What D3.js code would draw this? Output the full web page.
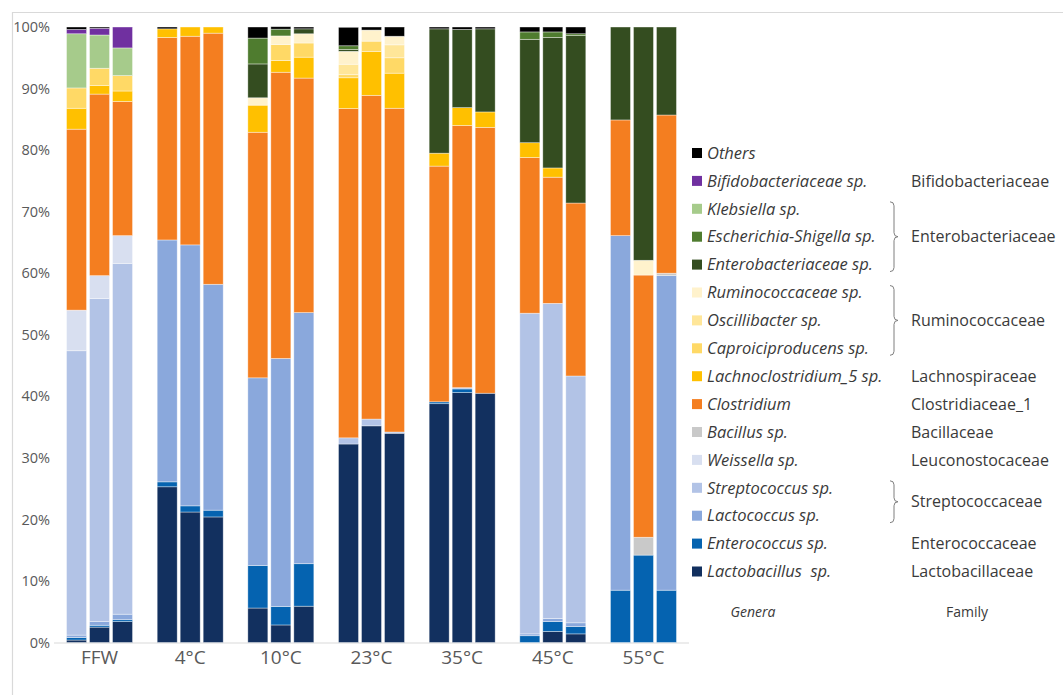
<!DOCTYPE html>
<html lang="en">
<head>
<meta charset="UTF-8">
<title>Genera by temperature</title>
<script src="https://d3js.org/d3.v7.min.js"></script>
<style>
  body { margin: 0; background: #fff; }
  text { font-family: "Open Sans", "Liberation Sans", sans-serif; }
</style>
</head>
<body>
<div id="chart"></div>
<script>
// groups and replicates
const categories = ["FFW", "4°C", "10°C", "23°C", "35°C", "45°C", "55°C"];
const replicates = ["1", "2", "3"];

// relative abundance (%), 21 bars: 3 replicates per group, bottom of stack first
const lactobacillus  = [0.4, 2.5, 3.4, 25.3, 21.2, 20.4, 5.6, 2.85, 5.9, 32.25, 35.2, 34.0, 38.8, 40.6, 40.5, 0, 1.8, 1.4, 0, 0, 0];
const enterococcus   = [0.4, 0.3, 0.3, 0.8, 1.0, 1.1, 6.9, 3.0, 6.9, 0, 0, 0, 0.3, 0.6, 0, 1.1, 1.6, 1.2, 8.5, 14.2, 8.5];
const lactococcus    = [0.4, 0.6, 0.9, 39.3, 42.4, 36.7, 30.5, 40.3, 40.8, 0, 0, 0, 0, 0, 0, 0.3, 0.5, 0.6, 57.6, 0, 51.1];
const streptococcus  = [46.2, 52.5, 57.0, 0, 0, 0, 0, 0, 0, 1.0, 1.1, 0.2, 0, 0.2, 0, 52.1, 51.2, 40.1, 0, 0, 0];
const weissella      = [6.6, 3.7, 4.5, 0, 0, 0, 0, 0, 0, 0, 0, 0, 0, 0, 0, 0, 0, 0, 0, 0, 0];
const bacillus       = [0, 0, 0, 0, 0, 0, 0, 0, 0, 0, 0, 0, 0, 0, 0, 0, 0, 0, 0, 2.9, 0.4];
const clostridium    = [29.4, 29.5, 21.8, 32.9, 33.9, 40.8, 39.9, 46.5, 38.1, 53.5, 52.6, 52.6, 38.3, 42.6, 43.2, 25.3, 20.5, 28.1, 18.8, 42.6, 25.7];
const lachnoclost    = [3.4, 1.4, 1.7, 1.4, 1.5, 1.0, 4.4, 1.9, 3.4, 5.0, 7.1, 5.7, 2.1, 2.9, 2.5, 2.4, 1.5, 0, 0, 0, 0];
const caproici       = [3.3, 2.8, 2.5, 0, 0, 0, 0, 2.6, 2.3, 0.5, 1.7, 2.5, 0, 0, 0, 0, 0, 0, 0, 0, 0];
const oscillibacter  = [0, 0, 0, 0, 0, 0, 0, 0, 0, 1.7, 0, 2.1, 0, 0, 0, 0, 0, 0, 0, 0, 0];
const ruminococc     = [0, 0, 0, 0, 0, 0, 1.2, 1.4, 1.5, 2.1, 1.8, 1.4, 0, 0, 0, 0, 0, 0, 0, 2.4, 0];
const enterobact     = [0, 0, 0, 0, 0, 0, 5.5, 0, 0.8, 0.3, 0, 0, 20.2, 12.7, 13.5, 16.8, 21.2, 27.2, 15.1, 37.9, 14.3];
const escherichia    = [0, 0, 0, 0, 0, 0, 4.2, 1.1, 0, 0.6, 0, 0, 0, 0, 0, 1.2, 0.9, 0.3, 0, 0, 0];
const klebsiella     = [8.8, 5.4, 4.5, 0, 0, 0, 0, 0, 0, 0, 0, 0, 0, 0, 0, 0, 0, 0, 0, 0, 0];
const bifido         = [0.7, 1.1, 3.4, 0, 0, 0, 0, 0, 0, 0, 0, 0, 0, 0, 0, 0, 0, 0, 0, 0, 0];
const others         = [0.4, 0.2, 0, 0.3, 0, 0, 1.8, 0.4, 0.3, 3.0, 0.5, 1.5, 0.3, 0.4, 0.3, 0.8, 0.8, 1.1, 0, 0, 0];

const genera = ["Lactobacillus  sp.", "Enterococcus sp.", "Lactococcus sp.", "Streptococcus sp.",
  "Weissella sp.", "Bacillus sp.", "Clostridium", "Lachnoclostridium_5 sp.", "Caproiciproducens sp.",
  "Oscillibacter sp.", "Ruminococcaceae sp.", "Enterobacteriaceae sp.", "Escherichia-Shigella sp.",
  "Klebsiella sp.", "Bifidobacteriaceae sp.", "Others"];
const seriesValues = [lactobacillus, enterococcus, lactococcus, streptococcus, weissella, bacillus,
  clostridium, lachnoclost, caproici, oscillibacter, ruminococc, enterobact, escherichia,
  klebsiella, bifido, others];
const colors = ["#12305f", "#0563b0", "#8aa8dc", "#b2c3e6", "#d8dff0", "#c9c9c9", "#f47e20",
  "#ffc000", "#ffd966", "#ffe699", "#fff2cc", "#344d20", "#4f7c2f", "#a6cb8b", "#7030a0", "#000000"];

// family labels: [text, first genus index (top row), last genus index]
const families = [
  ["Bifidobacteriaceae", 14, 14], ["Enterobacteriaceae", 13, 11], ["Ruminococcaceae", 10, 8],
  ["Lachnospiraceae", 7, 7], ["Clostridiaceae_1", 6, 6], ["Bacillaceae", 5, 5],
  ["Leuconostocaceae", 4, 4], ["Streptococcaceae", 3, 2], ["Enterococcaceae", 1, 1],
  ["Lactobacillaceae", 0, 0]
];

const W = 1063, H = 695;
const svg = d3.select("#chart").append("svg").attr("width", W).attr("height", H);

// frame
svg.append("path").attr("d", `M12.5,${H + 2}V12.5H${W + 2}`)
  .attr("fill", "none").attr("stroke", "#d9d9d9").attr("stroke-width", 1.2);

// table built from the arrays
const rows = [];
categories.forEach((c, gi) => replicates.forEach((r, ri) => {
  const row = { cat: c, rep: r };
  genera.forEach((g, si) => row[g] = seriesValues[si][gi * 3 + ri] / 100);
  rows.push(row);
}));
const stacked = d3.stack().keys(genera)(rows);

const x = d3.scaleBand().domain(categories).range([54.2, 688.8]);
const xi = d3.scaleBand().domain(replicates)
  .range([(x.bandwidth() - 66) / 2, (x.bandwidth() + 66) / 2]).paddingInner(0.13);
const y = d3.scaleLinear().domain([0, 1]).range([642.5, 27]);

// y axis
const yAxis = svg.append("g").attr("transform", "translate(54,0)")
  .call(d3.axisLeft(y).tickValues(d3.range(0, 1.01, 0.1)).tickFormat(d3.format(".0%")).tickSize(0).tickPadding(4));
yAxis.select(".domain").remove();
yAxis.selectAll("text").attr("fill", "#595959").style("font-size", "14.5px")
  .style("font-family", "'Open Sans', sans-serif");

// baseline
svg.append("line").attr("x1", 54).attr("x2", 689).attr("y1", y(0) + 0.5).attr("y2", y(0) + 0.5)
  .attr("stroke", "#d9d9d9").attr("stroke-width", 1.2);

// bars
svg.append("g").selectAll("g").data(stacked).join("g")
  .attr("fill", (d, i) => colors[i])
  .selectAll("rect").data(d => d).join("rect")
  .attr("x", d => x(d.data.cat) + xi(d.data.rep))
  .attr("width", xi.bandwidth())
  .attr("y", d => y(d[1]))
  .attr("height", d => y(d[0]) - y(d[1]))
  .attr("stroke", "#fff").attr("stroke-opacity", 0.55).attr("stroke-width", 0.7);

// category labels
const xAxis = svg.append("g").attr("transform", `translate(0,${y(0)})`)
  .call(d3.axisBottom(x).tickSize(0).tickPadding(8));
xAxis.select(".domain").remove();
xAxis.selectAll("text").attr("fill", "#595959").style("font-size", "19px")
  .style("font-family", "'Open Sans', sans-serif");

// legend
const rowY = d3.scaleLinear().domain([15, 0]).range([153, 571.5]);
const legend = svg.append("g");
genera.forEach((g, i) => {
  legend.append("rect").attr("x", 692).attr("y", rowY(i) - 5).attr("width", 10).attr("height", 10)
    .attr("fill", colors[i]);
  legend.append("text").attr("x", 707).attr("y", rowY(i)).attr("dy", "0.35em")
    .attr("fill", "#3a3a3a").style("font-size", "16.5px").style("font-style", "italic")
    .style("white-space", "pre").text(g);
});

families.forEach(([name, a, b]) => {
  const mid = (rowY(a) + rowY(b)) / 2;
  legend.append("text").attr("x", 911).attr("y", mid).attr("dy", "0.35em")
    .attr("fill", "#3a3a3a").style("font-size", "16px").text(name);
  if (a !== b) {
    const t = rowY(a) - 7, bt = rowY(b) + 7, bx = 894;
    legend.append("path")
      .attr("d", `M${bx - 4},${t}Q${bx},${t} ${bx},${t + 4}V${mid - 4}Q${bx},${mid} ${bx + 4},${mid}` +
        `Q${bx},${mid} ${bx},${mid + 4}V${bt - 4}Q${bx},${bt} ${bx - 4},${bt}`)
      .attr("fill", "none").attr("stroke", "#7f7f7f").attr("stroke-width", 1);
  }
});

legend.append("text").attr("x", 753).attr("y", 612).attr("text-anchor", "middle").attr("dy", "0.35em")
  .attr("fill", "#3a3a3a").style("font-size", "14px").style("font-style", "italic").text("Genera");
legend.append("text").attr("x", 967).attr("y", 612).attr("text-anchor", "middle").attr("dy", "0.35em")
  .attr("fill", "#3a3a3a").style("font-size", "14px").text("Family");
</script>
</body>
</html>
